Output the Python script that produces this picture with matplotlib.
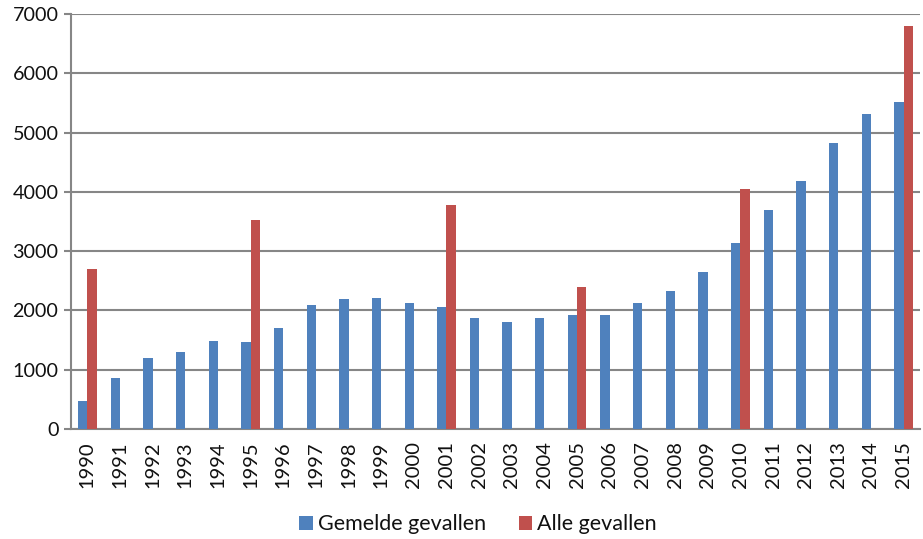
import matplotlib
matplotlib.use("Agg")
import matplotlib.pyplot as plt
import numpy as np

plt.rcParams['font.family'] = ['Lato', 'DejaVu Sans']

# jaren en aantallen
jaren = [str(j) for j in range(1990, 2016)]
gemeld = [480, 860, 1200, 1300, 1480, 1460, 1700, 2090, 2200, 2210, 2120, 2050,
          1880, 1810, 1880, 1930, 1920, 2120, 2330, 2640, 3130, 3690, 4190, 4830,
          5310, 5520]
# alle gevallen alleen voor een paar jaren bekend
alle_jaren = ['1990', '1995', '2001', '2005', '2010', '2015']
alle = [2700, 3530, 3780, 2400, 4050, 6800]

fig = plt.figure(figsize=(9.23, 5.39), dpi=100)
ax = fig.add_axes([0.0769, 0.2041, 0.9198, 0.7699])

x = np.arange(len(jaren))
w = 0.285
ax.bar(x - w / 2, gemeld, width=w, color='#4F81BD', label='Gemelde gevallen', zorder=3)
xa = [jaren.index(j) for j in alle_jaren]
ax.bar(np.array(xa) + w / 2, alle, width=w, color='#C0504D', label='Alle gevallen', zorder=3)

ax.set_xlim(-0.5, len(jaren) - 0.5)
ax.set_ylim(0, 7000)
ax.set_yticks(range(0, 7001, 1000))
ax.set_xticks(x)
ax.set_xticklabels(jaren, rotation=90, fontsize=14.5)
ax.tick_params(axis='x', length=0, pad=9, labelcolor='#111111')
ax.tick_params(axis='y', length=5, color='#868686', width=1.5, labelsize=14.2, pad=4,
               labelcolor='#111111')
ax.grid(axis='y', color='#868686', linewidth=1.5, zorder=0)

for s in ['top', 'right']:
    ax.spines[s].set_visible(False)
for s in ['left', 'bottom']:
    ax.spines[s].set_color('#868686')
    ax.spines[s].set_linewidth(1.5)

leg = fig.legend(loc='lower center', bbox_to_anchor=(0.518, -0.027), ncol=2, frameon=False,
                 fontsize=15.5, handlelength=0.62, handleheight=0.62, handletextpad=0.25,
                 columnspacing=1.5)
for t in leg.get_texts():
    t.set_color('#111111')

fig.savefig('out.png', dpi=100)
